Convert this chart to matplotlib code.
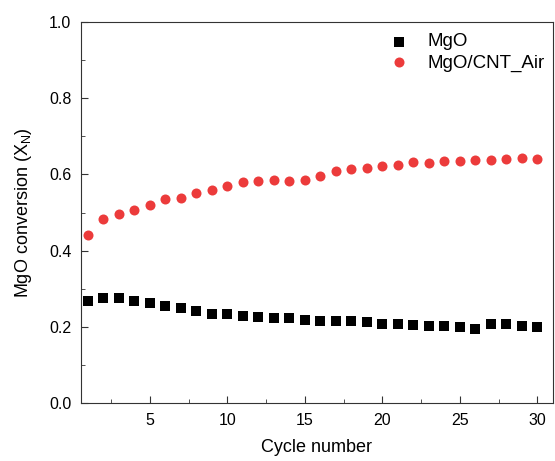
import matplotlib.pyplot as plt
from matplotlib.ticker import MultipleLocator

plt.rcParams['font.family'] = ['Liberation Sans', 'DejaVu Sans']

cycles = list(range(1, 31))
mgo = [0.268, 0.276, 0.275, 0.268, 0.262, 0.255, 0.249, 0.241, 0.234, 0.234,
       0.229, 0.226, 0.223, 0.222, 0.219, 0.215, 0.215, 0.215, 0.212, 0.206,
       0.207, 0.204, 0.203, 0.202, 0.200, 0.193, 0.208, 0.208, 0.203, 0.199]
mgo_cnt = [0.441, 0.483, 0.497, 0.507, 0.521, 0.536, 0.539, 0.550, 0.560, 0.569,
           0.579, 0.582, 0.585, 0.582, 0.585, 0.597, 0.609, 0.613, 0.617, 0.622,
           0.625, 0.632, 0.631, 0.635, 0.636, 0.638, 0.639, 0.640, 0.642, 0.640]

fig = plt.figure(figsize=(5.55, 4.61), dpi=100)
ax = fig.add_axes([0.146, 0.126, 0.85, 0.826])

ax.scatter(cycles, mgo, marker='s', s=45, color='black', label='MgO', linewidths=0)
ax.scatter(cycles, mgo_cnt, marker='o', s=52, color='#ec3b3b', label='MgO/CNT_Air', linewidths=0)

ax.set_xlim(0.55, 31)
ax.set_ylim(0, 1.0)
ax.xaxis.set_major_locator(MultipleLocator(5))
ax.xaxis.set_minor_locator(MultipleLocator(2.5))
ax.yaxis.set_major_locator(MultipleLocator(0.2))
ax.yaxis.set_minor_locator(MultipleLocator(0.1))
ax.tick_params(which='both', direction='in', labelsize=11.5, color='#333333', pad=7)
ax.tick_params(which='major', length=5)
ax.tick_params(which='minor', length=3)
ax.set_xticks([5, 10, 15, 20, 25, 30])
for s in ax.spines.values():
    s.set_color('#333333')

ax.set_xlabel('Cycle number', fontsize=13, labelpad=8)
ax.set_ylabel('MgO conversion (X$_\\mathregular{N}$)', fontsize=13, labelpad=11)

ax.legend(loc='upper right', frameon=False, fontsize=13.5, handletextpad=0.5,
          borderaxespad=0.3, labelspacing=0.2, bbox_to_anchor=(1.01, 1.005))

fig.savefig('out.png', dpi=100)
